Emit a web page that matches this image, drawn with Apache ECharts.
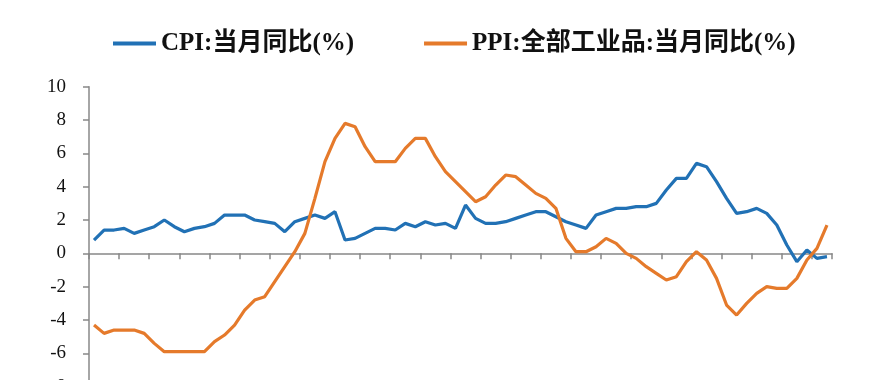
<!DOCTYPE html>
<html>
<head>
<meta charset="utf-8">
<script src="https://cdn.jsdelivr.net/npm/echarts@6/dist/echarts.min.js"></script>
<style>html,body{margin:0;padding:0;background:#fff;}#c{width:893px;height:380px;}</style>
</head>
<body>
<div id="c"></div>
<script>
var categories = [
'2015-01','2015-02','2015-03','2015-04','2015-05','2015-06','2015-07','2015-08','2015-09','2015-10','2015-11','2015-12',
'2016-01','2016-02','2016-03','2016-04','2016-05','2016-06','2016-07','2016-08','2016-09','2016-10','2016-11','2016-12',
'2017-01','2017-02','2017-03','2017-04','2017-05','2017-06','2017-07','2017-08','2017-09','2017-10','2017-11','2017-12',
'2018-01','2018-02','2018-03','2018-04','2018-05','2018-06','2018-07','2018-08','2018-09','2018-10','2018-11','2018-12',
'2019-01','2019-02','2019-03','2019-04','2019-05','2019-06','2019-07','2019-08','2019-09','2019-10','2019-11','2019-12',
'2020-01','2020-02','2020-03','2020-04','2020-05','2020-06','2020-07','2020-08','2020-09','2020-10','2020-11','2020-12',
'2021-01','2021-02'];
var cpi = [
0.8,1.4,1.4,1.5,1.2,1.4,1.6,2.0,1.6,1.3,1.5,1.6,
1.8,2.3,2.3,2.3,2.0,1.9,1.8,1.3,1.9,2.1,2.3,2.1,
2.5,0.8,0.9,1.2,1.5,1.5,1.4,1.8,1.6,1.9,1.7,1.8,
1.5,2.9,2.1,1.8,1.8,1.9,2.1,2.3,2.5,2.5,2.2,1.9,
1.7,1.5,2.3,2.5,2.7,2.7,2.8,2.8,3.0,3.8,4.5,4.5,
5.4,5.2,4.3,3.3,2.4,2.5,2.7,2.4,1.7,0.5,-0.5,0.2,
-0.3,-0.2];
var ppi = [
-4.3,-4.8,-4.6,-4.6,-4.6,-4.8,-5.4,-5.9,-5.9,-5.9,-5.9,-5.9,
-5.3,-4.9,-4.3,-3.4,-2.8,-2.6,-1.7,-0.8,0.1,1.2,3.3,5.5,
6.9,7.8,7.6,6.4,5.5,5.5,5.5,6.3,6.9,6.9,5.8,4.9,
4.3,3.7,3.1,3.4,4.1,4.7,4.6,4.1,3.6,3.3,2.7,0.9,
0.1,0.1,0.4,0.9,0.6,0.0,-0.3,-0.8,-1.2,-1.6,-1.4,-0.5,
0.1,-0.4,-1.5,-3.1,-3.7,-3.0,-2.4,-2.0,-2.1,-2.1,-1.5,-0.4,
0.3,1.7];
var seriesNames = ['CPI:当月同比(%)', 'PPI:全部工业品:当月同比(%)'];

var serif = '"Liberation Serif", "Times New Roman", "Noto Sans CJK SC", serif';
var chart = echarts.init(document.getElementById('c'));
chart.setOption({
  animation: false,
  legend: {
    left: 113, top: 31, padding: 0,
    icon: 'rect', itemWidth: 43, itemHeight: 4, itemGap: 70,
    textStyle: { fontFamily: serif, fontSize: 25, fontWeight: 'bold', color: '#111' },
    data: seriesNames
  },
  grid: { left: 89, top: 86.7, width: 743, height: 300, containLabel: false, outerBoundsMode: 'none' },
  xAxis: {
    type: 'category', data: categories, boundaryGap: true,
    axisLine: { onZero: true, lineStyle: { color: '#888', width: 1.5 } },
    axisTick: { show: true, interval: 2, length: 6, lineStyle: { color: '#888', width: 1.5 } },
    axisLabel: { show: false },
    splitLine: { show: false }
  },
  yAxis: {
    type: 'value', min: -8, max: 10, interval: 2,
    axisLine: { show: true, lineStyle: { color: '#888', width: 1.5 } },
    axisTick: { show: true, length: 6, lineStyle: { color: '#888', width: 1.5 } },
    axisLabel: { fontFamily: serif, fontSize: 19, color: '#111', margin: 23 },
    splitLine: { show: false }
  },
  series: [
    { name: seriesNames[0], type: 'line', data: cpi, symbol: 'none', color: '#2171B5',
      lineStyle: { width: 3.2, color: '#2171B5' } },
    { name: seriesNames[1], type: 'line', data: ppi, symbol: 'none', color: '#E57A2B',
      lineStyle: { width: 3.2, color: '#E57A2B' } }
  ]
});
</script>
</body>
</html>
